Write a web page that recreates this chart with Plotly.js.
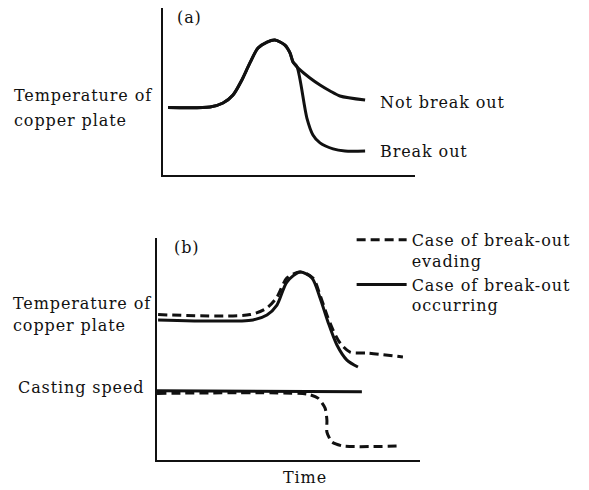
<!DOCTYPE html>
<html><head><meta charset="utf-8">
<script src="https://cdn.plot.ly/plotly-3.0.1.min.js"></script>
<style>html,body{margin:0;padding:0;background:#fff} svg text{letter-spacing:0.9px}</style>
</head><body>
<div id="chart" style="width:589px;height:490px"></div>
<script>
// ---- Panel (a): copper plate temperature (arbitrary units) vs time (arbitrary units)
const aRiseTime = [2.0, 18.7, 23.8, 27.8, 31.3, 34.5, 37.7, 41.3, 44.4, 48.4, 50.4, 51.6];
const aRiseTemp = [40.4, 40.7, 43.1, 47.9, 56.9, 67.1, 76.0, 79.6, 80.8, 77.8, 73.1, 67.7];
const aNotBreakTime = [54.4, 58.3, 62.3, 66.3, 70.2, 80.2];
const aNotBreakTemp = [62.9, 58.1, 53.9, 50.3, 47.3, 44.9];
const aBreakTime = [53.2, 57.1, 59.5, 62.3, 67.5, 72.2, 80.2];
const aBreakTemp = [64.7, 34.1, 24.0, 19.2, 15.6, 14.4, 14.4];

// ---- Panel (b): temperature and casting speed vs time
const bEvadeTempTime = [0.4, 35.4, 41.8, 45.6, 49.4, 54.4, 59.3, 62.0, 64.6, 66.9, 69.6, 73.4, 79.8, 93.5];
const bEvadeTemp     = [65.5, 65.5, 68.5, 73.4, 82.0, 84.7, 82.0, 74.3, 65.3, 58.6, 52.7, 48.6, 48.2, 46.4];
const bOccurTempTime = [0.4, 36.5, 41.8, 45.6, 49.4, 54.4, 58.9, 62.0, 65.0, 68.4, 72.2, 76.4];
const bOccurTemp     = [63.1, 63.1, 65.3, 69.8, 80.2, 84.7, 82.0, 73.0, 62.2, 51.8, 45.0, 41.9];
const bOccurSpeedTime = [0, 77.9];
const bOccurSpeed     = [31.2, 30.8];
const bEvadeSpeedTime = [0, 57.0, 61.2, 63.9, 64.6, 64.6, 66.5, 70.7, 92.4];
const bEvadeSpeed     = [30.0, 29.7, 27.9, 23.4, 18.0, 12.6, 8.1, 6.3, 6.3];

const legendNames = ["Case of break-out<br>evading", "Case of break-out<br>occurring"];
const labelsA = {ylabel: ["Temperature of", "copper plate"], panel: "(a)", notBreak: "Not break out", brk: "Break out"};
const labelsB = {ylabel: ["Temperature of", "copper plate"], speed: "Casting speed", panel: "(b)", xlabel: "Time"};

const FONT = "DejaVu Serif, serif";
const solid = {color: "#111", width: 3, shape: "spline", smoothing: 0.8};
const dashed = {color: "#111", width: 3, shape: "spline", smoothing: 0.8, dash: "9px,5px"};

const traces = [
  {x: aRiseTime.concat(aNotBreakTime), y: aRiseTemp.concat(aNotBreakTemp), xaxis: "x", yaxis: "y", mode: "lines", line: solid, showlegend: false},
  {x: aRiseTime.concat(aBreakTime), y: aRiseTemp.concat(aBreakTemp), xaxis: "x", yaxis: "y", mode: "lines", line: solid, showlegend: false},
  {x: bEvadeTempTime, y: bEvadeTemp, xaxis: "x2", yaxis: "y2", mode: "lines", line: dashed, name: legendNames[0], showlegend: true},
  {x: bOccurTempTime, y: bOccurTemp, xaxis: "x2", yaxis: "y2", mode: "lines", line: solid, name: legendNames[1], showlegend: true},
  {x: bOccurSpeedTime, y: bOccurSpeed, xaxis: "x2", yaxis: "y2", mode: "lines", line: {color: "#111", width: 3}, showlegend: false},
  {x: bEvadeSpeedTime, y: bEvadeSpeed, xaxis: "x2", yaxis: "y2", mode: "lines", line: Object.assign({}, dashed, {smoothing: 0.6}), showlegend: false}
];

const axisBase = {range: [0, 100], showgrid: false, zeroline: false, showticklabels: false, ticks: "",
  showline: true, linecolor: "#111", linewidth: 2, fixedrange: true};

function ann(text, x, y, xanchor) {
  return {text: text, xref: "paper", yref: "paper", x: x, y: y, xanchor: xanchor || "left", yanchor: "middle",
    showarrow: false, font: {family: FONT, size: 16, color: "#111"}};
}

const layout = {
  width: 589, height: 490, margin: {l: 0, r: 0, t: 0, b: 0},
  paper_bgcolor: "#fff", plot_bgcolor: "rgba(0,0,0,0)",
  xaxis: Object.assign({}, axisBase, {domain: [0.2767, 0.7046], anchor: "y"}),
  yaxis: Object.assign({}, axisBase, {domain: [0.6429, 0.9837], anchor: "x"}),
  xaxis2: Object.assign({}, axisBase, {domain: [0.2666, 0.7131], anchor: "y2"}),
  yaxis2: Object.assign({}, axisBase, {domain: [0.0612, 0.5143], anchor: "x2"}),
  showlegend: true,
  legend: {x: 0.597, y: 0.545, xanchor: "left", yanchor: "top", valign: "top", itemwidth: 50,
    font: {family: FONT, size: 16, color: "#111"}, bgcolor: "rgba(0,0,0,0)", borderwidth: 0, tracegroupgap: 0},
  annotations: [
    ann(labelsA.panel, 0.2971, 0.9633),
    ann(labelsA.ylabel[0], 0.0204, 0.8061),
    ann(labelsA.ylabel[1], 0.0204, 0.7551),
    ann(labelsA.notBreak, 0.6418, 0.7918),
    ann(labelsA.brk, 0.6418, 0.6898),
    ann(labelsB.panel, 0.2920, 0.4959),
    ann(labelsB.ylabel[0], 0.0187, 0.3816),
    ann(labelsB.ylabel[1], 0.0187, 0.3367),
    ann(labelsB.speed, 0.2496, 0.2102, "right"),
    ann(labelsB.xlabel, 0.5178, 0.0245, "center")
  ]
};

Plotly.newPlot("chart", traces, layout, {staticPlot: true, displayModeBar: false});
</script>
</body></html>
